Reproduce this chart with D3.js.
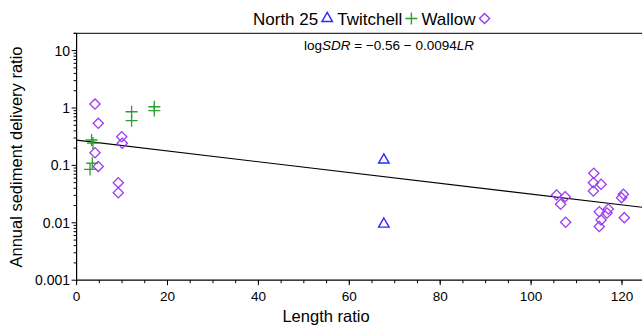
<!DOCTYPE html>
<html><head><meta charset="utf-8">
<script src="https://cdn.jsdelivr.net/npm/d3@7"></script>
<style>body{margin:0;background:#fff}svg{display:block}text{font-family:"Liberation Sans",Arial,sans-serif}</style>
</head><body><svg id="c" width="642" height="327"></svg>
<script>
const north25 = [[67.6,0.124],[67.6,0.0095]];
const twitchell = [[3.3,0.277],[3.6,0.245],[3.45,0.109],[2.95,0.085],[12.1,0.86],[12.1,0.60],[17.1,1.05],[17.1,0.90]];
const wallow = [[4.05,1.17],[4.77,0.54],[4.05,0.166],[4.77,0.096],[9.92,0.316],[10.05,0.243],[9.17,0.05],[9.17,0.0334],
 [105.6,0.0305],[107.5,0.0285],[106.5,0.021],[107.6,0.0102],[113.8,0.073],[113.7,0.05],[115.4,0.047],[113.7,0.0358],
 [115.0,0.0156],[117.0,0.0174],[116.7,0.0148],[115.4,0.0112],[115.0,0.0086],[120.3,0.0314],[119.9,0.0274],[120.5,0.0123]];
const xTicks = [0,20,40,60,80,100,120];
const yTicks = [0.001,0.01,0.1,1,10];
const yTickLabels = ["0.001","0.01","0.1","1","10"];
const fitA = -0.56, fitB = -0.0094;
const legendNames = ["North 25","Twitchell","Wallow"];

const svg = d3.select("#c");
const L = 76.6, T = 33.3, B = 280.2;
const x = d3.scaleLinear().domain([0,125]).range([L, L+125*4.545]);
const y = d3.scaleLog().domain([0.001,20]).range([B, T]);
const cBlue="#2a2aff", cGreen="#2e9e2e", cPurple="#9b3cf2";

// top border
svg.append("line").attr("x1",L).attr("x2",642).attr("y1",T).attr("y2",T).attr("stroke","#333").attr("stroke-width",1.2);

// x axis
const minorX = d3.range(0,126,5);
const gx = svg.append("g").attr("transform",`translate(0,${B})`);
gx.append("line").attr("x1",L).attr("x2",642).attr("stroke","#000").attr("stroke-width",1.2);
gx.selectAll(".mx").data(minorX).join("line").attr("x1",d=>x(d)).attr("x2",d=>x(d)).attr("y1",0).attr("y2",3).attr("stroke","#000");
gx.selectAll(".Mx").data(xTicks).join("line").attr("x1",d=>x(d)).attr("x2",d=>x(d)).attr("y1",0).attr("y2",5).attr("stroke","#000");
gx.selectAll("text").data(xTicks).join("text").attr("x",d=>x(d)).attr("y",20.5).attr("text-anchor","middle").attr("font-size",13.5).text(d=>d);

// y axis
const gy = svg.append("g").attr("transform",`translate(${L},0)`);
gy.append("line").attr("y1",T).attr("y2",B).attr("stroke","#000").attr("stroke-width",1.2);
const minorY = [];
for (let e=-3;e<=1;e++) for (let m=2;m<=9;m++){const v=m*Math.pow(10,e); if(v<=20) minorY.push(v);}
minorY.push(20);
gy.selectAll(".my").data(minorY).join("line").attr("x1",-3).attr("x2",0).attr("y1",d=>y(d)).attr("y2",d=>y(d)).attr("stroke","#000");
gy.selectAll(".My").data(yTicks).join("line").attr("x1",-5).attr("x2",0).attr("y1",d=>y(d)).attr("y2",d=>y(d)).attr("stroke","#000");
gy.selectAll("text").data(yTicks).join("text").attr("x",-6.5).attr("y",d=>y(d)+5).attr("text-anchor","end").attr("font-size",14).text((d,i)=>yTickLabels[i]);

// fit line
const fx = [0,125];
svg.append("path").datum(fx).attr("fill","none").attr("stroke","#000").attr("stroke-width",1.1)
  .attr("d", d3.line().x(d=>x(d)).y(d=>y(Math.pow(10, fitA + fitB*d))));

// markers
const tri = d3.symbol().type(d3.symbolTriangle).size(48)();
const sq = d3.symbol().type(d3.symbolSquare).size(52)();
const plus = "M-6,0H6M0,-6V6";
svg.append("g").selectAll("path").data(north25).join("path")
  .attr("d",tri).attr("transform",d=>`translate(${x(d[0])},${y(d[1])})`).attr("fill","none").attr("stroke",cBlue).attr("stroke-width",1.4);
svg.append("g").selectAll("path").data(twitchell).join("path")
  .attr("d",plus).attr("transform",d=>`translate(${x(d[0])},${y(d[1])})`).attr("fill","none").attr("stroke",cGreen).attr("stroke-width",1.3);
svg.append("g").selectAll("path").data(wallow).join("path")
  .attr("d",sq).attr("transform",d=>`translate(${x(d[0])},${y(d[1])}) rotate(45)`).attr("fill","none").attr("stroke",cPurple).attr("stroke-width",1.3);

// legend
(function(){
  let cx = 253;
  const g = svg.append("g");
  const syms = [tri, plus, sq];
  const cols = [cBlue,cGreen,cPurple];
  legendNames.forEach((n,i)=>{
    const t = g.append("text").attr("x",cx).attr("y",24.5).attr("font-size",17).text(n);
    cx += t.node().getComputedTextLength() + 3;
    const sx = cx + 6;
    g.append("path").attr("d",syms[i]).attr("transform",`translate(${sx},${18.5}) ${i==2?"rotate(45)":""}`)
      .attr("fill","none").attr("stroke",cols[i]).attr("stroke-width",1.4);
    cx = sx + 10;
  });
})();

// formula
const f = svg.append("text").attr("x",389).attr("y",50).attr("text-anchor","middle").attr("font-size",13.5);
f.append("tspan").text("log");
f.append("tspan").attr("font-style","italic").text("SDR");
f.append("tspan").text(" = \u22120.56 \u2212 0.0094");
f.append("tspan").attr("font-style","italic").text("LR");

// axis titles
svg.append("text").attr("x",326).attr("y",322).attr("text-anchor","middle").attr("font-size",16.5).text("Length ratio");
svg.append("text").attr("transform","translate(22,157) rotate(-90)").attr("text-anchor","middle").attr("font-size",16.5).text("Annual sediment delivery ratio");
</script></body></html>
